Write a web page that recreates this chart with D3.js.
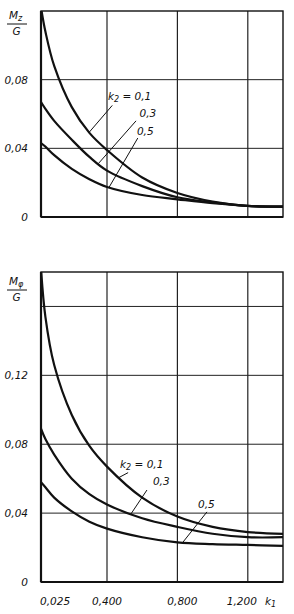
<!DOCTYPE html>
<html>
<head>
<meta charset="utf-8">
<script src="https://cdn.jsdelivr.net/npm/d3@7/dist/d3.min.js"></script>
<style>
  body { margin: 0; background: #fff; }
  text { font-family: "DejaVu Sans", sans-serif; font-style: italic; font-size: 10.5px; fill: #111; }
</style>
</head>
<body>
<svg width="294" height="614"></svg>
<script>
// k1 values (x axis), shared by both panels
const k1 = [0.025, 0.05, 0.1, 0.2, 0.3, 0.4, 0.6, 0.8, 1.0, 1.2, 1.4];
const xGrid = [0.4, 0.8, 1.2];
const xTicks = [0.025, 0.4, 0.8, 1.2];
const xTickLabels = ["0,025", "0,400", "0,800", "1,200"];

// upper panel: Mz/G for k2 = 0.1, 0.3, 0.5
const mz01 = [0.122, 0.108, 0.088, 0.064, 0.049, 0.039, 0.023, 0.014, 0.009, 0.0065, 0.006];
const mz03 = [0.067, 0.063, 0.056, 0.045, 0.035, 0.027, 0.018, 0.0115, 0.0085, 0.0064, 0.006];
const mz05 = [0.043, 0.041, 0.036, 0.028, 0.022, 0.0175, 0.0128, 0.0103, 0.008, 0.0065, 0.006];
const mzGrid = [0.04, 0.08];
const mzTicks = [0, 0.04, 0.08];
const mzTickLabels = ["0", "0,04", "0,08"];

// lower panel: Mphi/G
const mf01 = [0.182, 0.154, 0.126, 0.097, 0.079, 0.067, 0.049, 0.038, 0.032, 0.029, 0.028];
const mf03 = [0.089, 0.083, 0.074, 0.060, 0.051, 0.045, 0.037, 0.032, 0.028, 0.026, 0.026];
const mf05 = [0.058, 0.055, 0.049, 0.041, 0.035, 0.031, 0.026, 0.023, 0.022, 0.0215, 0.021];
const mfGrid = [0.04, 0.08, 0.12, 0.16];
const mfTicks = [0, 0.04, 0.08, 0.12];
const mfTickLabels = ["0", "0,04", "0,08", "0,12"];

const k2Labels = ["0,1", "0,3", "0,5"];

const svg = d3.select("svg");
const x = d3.scaleLinear().domain([0.025, 1.4]).range([41, 283]);

function panel(o) {
    const y = d3.scaleLinear().domain(o.yDomain).range(o.yRange);
    const g = svg.append("g");
    const x0 = x.range()[0], x1 = x.range()[1];
    const yb = o.yRange[0], yt = o.yRange[1];

    // grid
    g.selectAll(".hg").data(o.yGrid).enter().append("line")
        .attr("x1", x0).attr("x2", x1)
        .attr("y1", d => y(d)).attr("y2", d => y(d))
        .attr("stroke", "#222").attr("stroke-width", 1);
    g.selectAll(".vg").data(xGrid).enter().append("line")
        .attr("x1", d => x(d)).attr("x2", d => x(d))
        .attr("y1", yt).attr("y2", yb)
        .attr("stroke", "#222").attr("stroke-width", 1.2);

    // frame
    g.append("rect").attr("x", x0).attr("y", yt)
        .attr("width", x1 - x0).attr("height", yb - yt)
        .attr("fill", "none").attr("stroke", "#111").attr("stroke-width", 1.4);
    g.append("line").attr("x1", x0).attr("x2", x0).attr("y1", yt).attr("y2", yb)
        .attr("stroke", "#111").attr("stroke-width", 2.2);
    g.append("line").attr("x1", x0).attr("x2", x1).attr("y1", yb).attr("y2", yb)
        .attr("stroke", "#111").attr("stroke-width", 2);

    // curves
    const clipId = "clip" + o.id;
    g.append("clipPath").attr("id", clipId).append("rect")
        .attr("x", x0).attr("y", yt).attr("width", x1 - x0).attr("height", yb - yt);
    const line = d3.line().x((d, i) => x(k1[i])).y(d => y(d)).curve(d3.curveCatmullRom.alpha(0.5));
    g.append("g").attr("clip-path", `url(#${clipId})`)
        .selectAll("path").data(o.series).enter().append("path")
        .attr("d", d => line(d))
        .attr("fill", "none").attr("stroke", "#111").attr("stroke-width", 2.2);

    // y tick labels
    g.selectAll(".yl").data(o.yTicks).enter().append("text")
        .attr("x", 28).attr("y", d => y(d) + 4)
        .attr("text-anchor", "end")
        .text((d, i) => o.yTickLabels[i]);

    // title M/G
    const t = g.append("text").attr("x", 9).attr("y", o.titleY).attr("font-size", 11.5);
    t.append("tspan").text("M");
    t.append("tspan").attr("font-size", 8).attr("dy", 2).text(o.sub);
    g.append("line").attr("x1", 7).attr("x2", 27)
        .attr("y1", o.titleY + 5).attr("y2", o.titleY + 5)
        .attr("stroke", "#111").attr("stroke-width", 1);
    g.append("text").attr("x", 16.5).attr("y", o.titleY + 16).attr("font-size", 11)
        .attr("text-anchor", "middle").text("G");

    // k2 labels and leaders
    g.selectAll(".ld").data(o.leaders).enter().append("line")
        .attr("x1", d => x(d[0])).attr("y1", d => y(d[1]))
        .attr("x2", d => x(d[2])).attr("y2", d => y(d[3]))
        .attr("stroke", "#111").attr("stroke-width", 1);
    o.labels.forEach((p, i) => {
        const tx = g.append("text").attr("x", x(p[0])).attr("y", y(p[1])).attr("font-size", 11);
        if (i === 0) {
            tx.append("tspan").text("k");
            tx.append("tspan").attr("font-size", 8).attr("dy", 2).text("2");
            tx.append("tspan").attr("dy", -2).text(" = " + k2Labels[i]);
        } else {
            tx.text(k2Labels[i]);
        }
    });

    if (o.xLabels) {
        g.selectAll(".xl").data(xTicks).enter().append("text")
            .attr("x", (d, i) => i === 0 ? x0 - 1 : x(d) + (i === 3 ? -6 : i === 2 ? 5 : 0))
            .attr("y", yb + 23)
            .attr("font-size", 11)
            .attr("text-anchor", (d, i) => i === 0 ? "start" : "middle")
            .text((d, i) => xTickLabels[i]);
        const kx = g.append("text").attr("x", 265).attr("y", yb + 23).attr("font-size", 11);
        kx.append("tspan").text("k");
        kx.append("tspan").attr("font-size", 8).attr("dy", 2).text("1");
    }
}

panel({
    id: "a", yDomain: [0, 0.12], yRange: [217, 11],
    yGrid: mzGrid, yTicks: mzTicks, yTickLabels: mzTickLabels,
    series: [mz01, mz03, mz05], sub: "z", titleY: 19,
    labels: [[0.405, 0.068], [0.585, 0.058], [0.57, 0.048]],
    leaders: [[0.43, 0.065, 0.30, 0.0495], [0.565, 0.056, 0.35, 0.031], [0.575, 0.046, 0.41, 0.017]],
    xLabels: false
});

panel({
    id: "b", yDomain: [0, 0.18], yRange: [582, 272],
    yGrid: mfGrid, yTicks: mfTicks, yTickLabels: mfTickLabels,
    series: [mf01, mf03, mf05], sub: "φ", titleY: 285,
    labels: [[0.474, 0.0662], [0.661, 0.0563], [0.917, 0.043]],
    leaders: [[0.52, 0.0635, 0.465, 0.0605], [0.627, 0.0534, 0.536, 0.0395], [0.968, 0.0407, 0.832, 0.0232]],
    xLabels: true
});
</script>
</body>
</html>
